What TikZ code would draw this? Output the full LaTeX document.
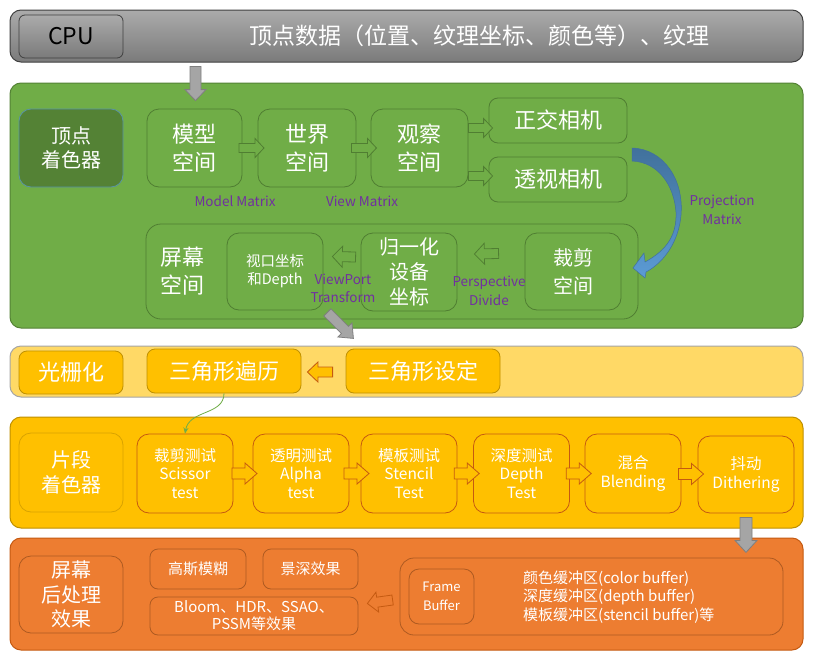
\documentclass[tikz,border=0pt]{standalone}
\usepackage{fontspec}
\setmainfont{Noto Sans CJK SC}
\usetikzlibrary{calc,arrows.meta}
\definecolor{gfill}{HTML}{70AD47}
\definecolor{gdark}{HTML}{548235}
\definecolor{gline}{HTML}{507E32}
\definecolor{purp}{HTML}{7030A0}
\definecolor{ylight}{HTML}{FFD966}
\definecolor{ygold}{HTML}{FFC000}
\definecolor{yline}{HTML}{BF9000}
\definecolor{obrown}{HTML}{C55A11}
\definecolor{ofill}{HTML}{ED7D31}
\definecolor{oline}{HTML}{AE5A21}
\definecolor{bluel}{HTML}{5B9BD5}
\definecolor{blued}{HTML}{41719C}
\definecolor{grayf}{HTML}{A5A5A5}
\definecolor{grayl}{HTML}{7F7F7F}
\newcommand\setfs[2]{\fontsize{#1}{#2}\selectfont}
% #1 style, #2 start, #3 end, #4 shaft half width, #5 head half width, #6 head length
\newcommand\fatarrow[6]{%
  \coordinate (faS) at (#2);
  \coordinate (faE) at (#3);
  \coordinate (faC) at ($(faE)!#6!(faS)$);
  \draw[#1] ($(faS)!#4!90:(faE)$) -- ($(faC)!#4!90:(faE)$) -- ($(faC)!#5!90:(faE)$)
    -- (faE) -- ($(faC)!#5!-90:(faE)$) -- ($(faC)!#4!-90:(faE)$) -- ($(faS)!#4!-90:(faE)$) -- cycle;}
\begin{document}
\begin{tikzpicture}[x=1pt,y=-1pt,
  band/.style={rounded corners=11pt, line width=1pt, inner sep=0pt},
  gbox/.style={draw=gline, line width=0.8pt, rounded corners=12pt, text=white, align=center, inner sep=0pt},
  lab/.style={text=purp, font=\setfs{13.5}{18.5}, align=center, inner sep=0pt},
  ybox/.style={draw=yline, fill=ygold, line width=0.8pt, rounded corners=8pt, text=white, align=center, inner sep=0pt},
  tbox/.style={draw=obrown, fill=ygold, line width=0.8pt, rounded corners=12pt, text=white, align=center, inner sep=0pt, font=\setfs{15.5}{18.5}},
  obox/.style={draw=oline, line width=0.8pt, rounded corners=8pt, text=white, align=center, inner sep=0pt},
  garrow/.style={draw=gline, fill=gfill, line width=0.8pt},
  yarrow/.style={draw=obrown, fill=ygold, line width=0.8pt},
  oarrow/.style={draw=obrown, fill=ofill, line width=0.8pt},
  grarrow/.style={draw=grayl, fill=grayf, line width=0.8pt}]
\useasboundingbox (0,0) rectangle (819,656);
\fill[white] (0,0) rectangle (819,656);

% ---------------- CPU ----------------
\node[band, draw=black!75, top color=black!33, bottom color=black!52, minimum width=793pt, minimum height=52pt] (cpubar) at (406.5,36) {};
\node[draw=black!75, rounded corners=6pt, top color=black!33, bottom color=black!52, line width=0.8pt, minimum width=104pt, minimum height=43pt, font=\setfs{23}{28}, text=black] (cpu) at (71,36.5) {CPU};
\node[text=white, font=\setfs{23}{28}, inner sep=0pt] (cputxt) at (479,36) {顶点数据（位置、纹理坐标、颜色等）、纹理};

% ---------------- vertex stage ----------------
\node[band, draw=gdark, fill=gfill, minimum width=793pt, minimum height=245pt] (vbar) at (406.5,205.5) {};
\node[draw=bluel!70!gdark, fill=gdark, line width=0.8pt, rounded corners=12pt, text=white, align=center, inner sep=0pt, font=\setfs{20}{24}, minimum width=104pt, minimum height=78pt] (vshader) at (71,148) {顶点\\着色器};
\node[gbox, font=\setfs{22}{28}, minimum width=95pt, minimum height=78pt] (model) at (194.5,148) {模型\\空间};
\node[gbox, font=\setfs{22}{28}, minimum width=98pt, minimum height=78pt] (world) at (307,148) {世界\\空间};
\node[gbox, font=\setfs{22}{28}, minimum width=97pt, minimum height=78pt] (view) at (419.5,148) {观察\\空间};
\node[gbox, font=\setfs{22}{28}, minimum width=138pt, minimum height=45pt, rounded corners=9pt] (ortho) at (558,120.5) {正交相机};
\node[gbox, font=\setfs{22}{28}, minimum width=138pt, minimum height=45pt, rounded corners=9pt] (persp) at (558,179.5) {透视相机};
\node[gbox, minimum width=492pt, minimum height=95pt, rounded corners=15pt] (lowc) at (392,271.5) {};
\node[text=white, font=\setfs{22}{28}, align=center, inner sep=0pt] (screen) at (182,271) {屏幕\\空间};
\node[gbox, font=\setfs{14.5}{18}, minimum width=96pt, minimum height=77pt] (vp) at (275,271.5) {视口坐标\\和Depth};
\node[gbox, font=\setfs{20}{25}, minimum width=96pt, minimum height=78pt] (ndc) at (409,272) {归一化\\设备\\坐标};
\node[gbox, font=\setfs{20}{28}, minimum width=96pt, minimum height=77pt] (clip) at (573,271.5) {裁剪\\空间};

\node[lab] (lmodel) at (235,201) {Model Matrix};
\node[lab] (lview) at (362,201) {View Matrix};
\node[lab] (lproj) at (722,210) {Projection\\Matrix};
\node[lab] (lvp) at (343,288.5) {ViewPort\\Transform};
\node[lab] (lpd) at (489,291) {Perspective\\Divide};

\fatarrow{garrow}{$(model.east)!0.5!(world.west)+(-11,0)$}{$(model.east)!0.5!(world.west)+(14,0)$}{4.5pt}{9.5pt}{9pt}
\fatarrow{garrow}{$(world.east)!0.5!(view.west)+(-12,0)$}{$(world.east)!0.5!(view.west)+(13,0)$}{4.5pt}{9.5pt}{9pt}
\fatarrow{garrow}{$(view.east |- ortho.west)+(0,7.5)$}{$(ortho.west)+(4,7.5)$}{4.5pt}{9.5pt}{9pt}
\fatarrow{garrow}{$(view.east |- persp.west)+(0,-3.5)$}{$(persp.west)+(4,-3.5)$}{4.5pt}{9.5pt}{9pt}
\fatarrow{garrow}{$(ndc.west)+(-5,-15)$}{$(vp.east)+(9,-15)$}{5pt}{10.5pt}{10pt}
\fatarrow{garrow}{$(clip.west)+(-26,-18)$}{$(ndc.east)+(17,-18)$}{5pt}{10.5pt}{10pt}

% projection curved arrow
\shade[top color=blued, bottom color=bluel, draw=blued, line width=0.5pt]
  (632,148) .. controls (664,149) and (684,180) .. (681,215)
  .. controls (679,240) and (665,262) .. (646,272) -- (645,278) -- (633,268) -- (644,253) -- (645,262)
  .. controls (667,250) and (677,235) .. (676,212)
  .. controls (674,185) and (658,162) .. (632,161) -- cycle;

% gray arrows
\fatarrow{grarrow}{$(cpubar.south -| model.north)+(1,4)$}{$(model.north)+(1,-8)$}{5.5pt}{10.5pt}{11pt}
\fatarrow{grarrow}{$(vp.south east)+(4,2)$}{$(vp.south east)+(30,28)$}{5pt}{10pt}{12pt}

% ---------------- raster stage ----------------
\node[band, draw=grayf, fill=ylight, minimum width=793pt, minimum height=51pt] (rbar) at (406.5,371.5) {};
\node[ybox, font=\setfs{22}{28}, minimum width=104pt, minimum height=43pt] (raster) at (71,372.5) {光栅化};
\node[ybox, font=\setfs{22}{28}, minimum width=154pt, minimum height=44pt] (trav) at (224,371) {三角形遍历};
\node[ybox, font=\setfs{22}{28}, minimum width=154pt, minimum height=44pt] (setup) at (423,371) {三角形设定};
\fatarrow{yarrow}{$(setup.west)+(-13,1)$}{$(trav.east)+(6,1)$}{5pt}{10pt}{10.5pt}

% ---------------- fragment stage ----------------
\node[band, draw=yline, fill=ygold, minimum width=793pt, minimum height=111pt] (fbar) at (406.5,472.5) {};
\node[draw=yline!60!ygold, fill=ygold, line width=0.8pt, rounded corners=12pt, text=white, align=center, inner sep=0pt, font=\setfs{20}{24.5}, minimum width=104pt, minimum height=79pt] (fshader) at (71,472.5) {片段\\着色器};
\node[tbox, minimum width=96pt, minimum height=79pt] (scissor) at (185,473.5) {裁剪测试\\Scissor\\test};
\node[tbox, minimum width=96pt, minimum height=79pt] (alpha) at (301,473.5) {透明测试\\Alpha\\test};
\node[tbox, minimum width=96pt, minimum height=79pt] (stencil) at (409,473.5) {模板测试\\Stencil\\Test};
\node[tbox, minimum width=96pt, minimum height=79pt] (depth) at (521.5,473.5) {深度测试\\Depth\\Test};
\node[tbox, minimum width=96pt, minimum height=79pt] (blend) at (633,473.5) {混合\\Blending};
\node[tbox, minimum width=96pt, minimum height=77pt] (dither) at (746,474.5) {抖动\\Dithering};
\foreach \a/\b in {scissor/alpha, alpha/stencil, stencil/depth, depth/blend, blend/dither}{
  \fatarrow{yarrow}{$(\a.east)!0.5!(\b.west)+(-11,0)$}{$(\a.east)!0.5!(\b.west)+(14,0)$}{5.5pt}{10.5pt}{12pt}
}
\draw[gfill, line width=0.8pt, -{Stealth[length=6pt,width=5pt]}] (trav.south) .. controls ($(trav.south)+(0,22)$) and ($(scissor.north)+(4,-24)$) .. (scissor.north);

% ---------------- post-processing stage ----------------
\node[band, draw=obrown, fill=ofill, minimum width=793pt, minimum height=112pt] (obar) at (406.5,594) {};
\node[obox, rounded corners=12pt, font=\setfs{20}{24.5}, minimum width=104pt, minimum height=77pt] (pshader) at (71,594.5) {屏幕\\后处理\\效果};
\node[obox, font=\setfs{15}{18}, minimum width=96pt, minimum height=40pt] (gauss) at (198,569) {高斯模糊};
\node[obox, font=\setfs{15}{18}, minimum width=95pt, minimum height=40pt] (dof) at (310.5,569) {景深效果};
\node[obox, font=\setfs{15}{17}, minimum width=208pt, minimum height=38pt] (bloom) at (254,616) {Bloom、HDR、SSAO、\\PSSM等效果};
\node[obox, rounded corners=14pt, minimum width=383pt, minimum height=77pt] (fbc) at (591.5,596.5) {};
\node[obox, rounded corners=10pt, font=\setfs{13}{19}, minimum width=65pt, minimum height=55pt] (fb) at (441.5,596.5) {Frame\\Buffer};
\node[text=white, font=\setfs{15}{18.5}, align=left, anchor=west, inner sep=0pt] (bufs) at (523,597) {颜色缓冲区(color buffer)\\深度缓冲区(depth buffer)\\模板缓冲区(stencil buffer)等};
\fatarrow{oarrow}{$(fbc.west)+(-7,3.5)$}{$(bloom.east)+(9,-12.5)$}{5pt}{10pt}{10pt}

\fatarrow{grarrow}{$(dither.south)+(0,4)$}{$(dither.south)+(0,39)$}{6pt}{11pt}{12pt}

\end{tikzpicture}
\end{document}
